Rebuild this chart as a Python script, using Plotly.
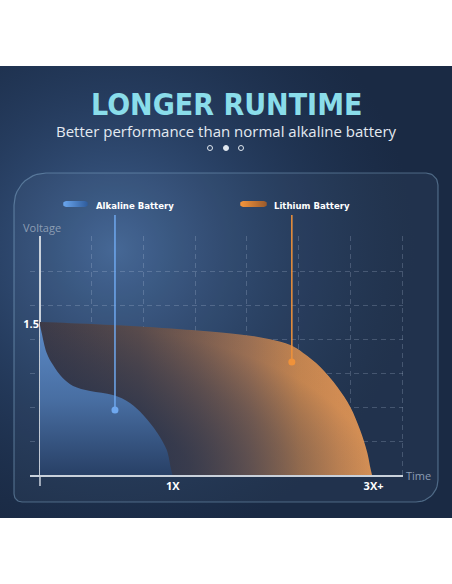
import numpy as np
import plotly.graph_objects as go

W, H = 452, 584

# ---------------- data ----------------
alk_x = [0, 0.03, 0.13, 0.25, 0.44, 0.64, 0.97, 1.41, 1.74, 2.0, 2.26, 2.45, 2.53, 2.56]
alk_y = [4.41, 4.2, 3.59, 3.24, 2.85, 2.62, 2.47, 2.35, 2.12, 1.76, 1.26, 0.74, 0.2, 0]
lith_x = [0, 1.0, 2.0, 2.71, 3.6, 4.1, 4.45, 4.84, 5.09, 5.42, 5.75, 6.0, 6.19, 6.33, 6.39, 6.42]
lith_y = [4.5, 4.44, 4.36, 4.29, 4.18, 4.09, 3.99, 3.82, 3.59, 3.18, 2.59, 2.0, 1.32, 0.65, 0.2, 0]
x_tickvals = [2.57, 6.45]
x_ticktext = ["1X", "3X+"]
y_tickvals = [4.44]
y_ticktext = ["1.5"]
series_names = ["Alkaline Battery", "Lithium Battery"]
leader_x = [1.45, 4.87]
leader_y_bottom = [1.91, 3.32]
leader_y_top = 7.65
X_RANGE = [-0.193, 7.02]
Y_RANGE = [0, 7.02]

BLUE = "#6fa8ef"
ORANGE = "#f0923a"
NAVY = "34,48,76"


def pxx(x):
    return x / W


def pxy(y):
    return 1 - y / H


def rounded_rect(x0, y0, x1, y1, rtl, rtr, rbr, rbl, n=12):
    pts = []
    def arc(cx, cy, r, a0, a1):
        for t in np.linspace(a0, a1, n):
            pts.append((cx + r * np.cos(t), cy + r * np.sin(t)))
    arc(x0 + rtl, y0 + rtl, rtl, np.pi, 1.5 * np.pi)
    arc(x1 - rtr, y0 + rtr, rtr, 1.5 * np.pi, 2 * np.pi)
    arc(x1 - rbr, y1 - rbr, rbr, 0, 0.5 * np.pi)
    arc(x0 + rbl, y1 - rbl, rbl, 0.5 * np.pi, np.pi)
    pts.append(pts[0])
    xs, ys = zip(*pts)
    return list(xs), list(ys)


def circle(cx, cy, r, n=90):
    t = np.linspace(0, 2 * np.pi, n)
    return list(cx + r * np.cos(t)), list(cy + r * np.sin(t))


fig = go.Figure()

# ---------- background subplot (pixel coordinates) ----------
bx, by = rounded_rect(0, 66, W, 518, 0.01, 0.01, 0.01, 0.01, 2)
fig.add_trace(go.Scatter(x=bx, y=by, fill="toself", fillcolor="#1a2a44",
                         line=dict(width=0), mode="lines", hoverinfo="skip",
                         showlegend=False, xaxis="x", yaxis="y"))
gx, gy = circle(115, 250, 300)
fig.add_trace(go.Scatter(x=gx, y=gy, fill="toself", mode="lines", line=dict(width=0),
                         fillgradient=dict(type="radial",
                                           colorscale=[[0, "rgba(78,118,172,0.75)"],
                                                       [0.5, "rgba(60,95,145,0.35)"],
                                                       [1, "rgba(40,70,110,0)"]]),
                         hoverinfo="skip", showlegend=False, xaxis="x", yaxis="y"))
for (ya, yb) in [(0, 66), (518, H)]:
    wx, wy = rounded_rect(0, ya, W, yb, 0.01, 0.01, 0.01, 0.01, 2)
    fig.add_trace(go.Scatter(x=wx, y=wy, fill="toself", fillcolor="white", mode="lines",
                             line=dict(width=0), hoverinfo="skip", showlegend=False,
                             xaxis="x", yaxis="y"))
# inner panel
ppx, ppy = rounded_rect(14, 173, 438, 502, 32, 12, 22, 8)
fig.add_trace(go.Scatter(x=ppx, y=ppy, fill="toself", fillcolor="rgba(150,185,225,0.06)",
                         mode="lines", line=dict(width=1.2, color="rgba(140,180,210,0.45)"),
                         hoverinfo="skip", showlegend=False, xaxis="x", yaxis="y"))
# legend pills
for (x0, x1, cs) in [(63, 88, [[0, "#6aa6ee"], [1, "#2f5c9c"]]),
                     (240, 267, [[0, "#f5963c"], [1, "#9a5a2c"]])]:
    r = 3
    t1 = np.linspace(0.5 * np.pi, 1.5 * np.pi, 12)
    t2 = np.linspace(-0.5 * np.pi, 0.5 * np.pi, 12)
    xs = list(x0 + r + r * np.cos(t1)) + list(x1 - r + r * np.cos(t2))
    ys = list(204 + r * np.sin(t1)) + list(204 + r * np.sin(t2))
    xs.append(xs[0]); ys.append(ys[0])
    fig.add_trace(go.Scatter(x=xs, y=ys, fill="toself", mode="lines", line=dict(width=0),
                             fillgradient=dict(type="horizontal", colorscale=cs),
                             hoverinfo="skip", showlegend=False, xaxis="x", yaxis="y"))
# pagination dots
fig.add_trace(go.Scatter(x=[210, 226, 241], y=[148, 148, 148], mode="markers",
                         marker=dict(symbol=["circle-open", "circle", "circle-open"], size=5,
                                     color="#dfe6ee", line=dict(width=1, color="#dfe6ee")),
                         hoverinfo="skip", showlegend=False, xaxis="x", yaxis="y"))

# ---------- main chart ----------
fig.add_trace(go.Scatter(x=lith_x, y=lith_y, fill="tozeroy", mode="lines",
                         line=dict(width=0, shape="spline", smoothing=1),
                         name=series_names[1],
                         fillgradient=dict(type="horizontal",
                                           colorscale=[[0, "rgb(64,60,72)"], [0.3, "rgb(95,78,76)"],
                                                       [0.47, "rgb(130,97,80)"], [0.63, "rgb(168,118,84)"],
                                                       [0.78, "rgb(212,141,80)"], [0.9, "rgb(228,150,84)"],
                                                       [1, "rgb(232,154,86)"]]),
                         showlegend=False, xaxis="x2", yaxis="y2"))
# shading of the lithium area, darker towards the origin (radial gradient centred at the
# origin: the outline is mirrored below/left of the axes, where it is clipped away)
xm, ym = max(lith_x), max(lith_y)
sh_x = list(lith_x) + [0, -xm, 0]
sh_y = list(lith_y) + [0, -ym, -0.001]
fig.add_trace(go.Scatter(x=sh_x, y=sh_y, fill="toself", mode="lines", line=dict(width=0),
                         fillgradient=dict(type="radial",
                                           colorscale=[[0, f"rgba({NAVY},0.92)"], [0.45, f"rgba({NAVY},0.75)"],
                                                       [0.75, f"rgba({NAVY},0.42)"], [1, f"rgba({NAVY},0.1)"]]),
                         hoverinfo="skip", showlegend=False, xaxis="x2", yaxis="y2"))
fig.add_trace(go.Scatter(x=alk_x, y=alk_y, fill="tozeroy", mode="lines",
                         line=dict(width=0, shape="spline", smoothing=1),
                         name=series_names[0],
                         fillgradient=dict(type="vertical",
                                           colorscale=[[0, "rgb(40,64,102)"], [0.5, "rgb(72,110,162)"],
                                                       [1, "rgb(92,138,198)"]]),
                         showlegend=False, xaxis="x2", yaxis="y2"))
for lx, lyb, col in zip(leader_x, leader_y_bottom, [BLUE, ORANGE]):
    fig.add_trace(go.Scatter(x=[lx, lx], y=[lyb, leader_y_top], mode="markers",
                             marker=dict(size=7, color=col), cliponaxis=False,
                             hoverinfo="skip", showlegend=False, xaxis="x2", yaxis="y2"))

ymin, ymax = Y_RANGE
shapes = []
for lx, lyb, col in zip(leader_x, leader_y_bottom, [BLUE, ORANGE]):
    shapes.append(dict(type="line", xref="x2", yref="y2 domain", x0=lx, x1=lx,
                       y0=(lyb - ymin) / (ymax - ymin), y1=(leader_y_top - ymin) / (ymax - ymin),
                       line=dict(color=col, width=1.5), layer="above"))
shapes.append(dict(type="line", xref="x2", yref="y2 domain", x0=0, x1=0, y0=0, y1=-11 / 238,
                   line=dict(color="#c9d1db", width=1.5), layer="above"))

GRID = "rgba(200,215,235,0.22)"
COND = "DejaVu Sans Condensed, sans-serif"
annotations = [
    dict(text="LONGER RUNTIME", x=0.5, y=pxy(104), xref="paper", yref="paper", showarrow=False,
         xanchor="center", yanchor="middle",
         font=dict(family=COND, size=30, color="#8addea", weight="bold")),
    dict(text="Better performance than normal alkaline battery", x=0.5, y=pxy(131),
         xref="paper", yref="paper", showarrow=False, xanchor="center", yanchor="middle",
         font=dict(family="Open Sans", size=15, color="#e4eaf1")),
    dict(text=series_names[0], x=pxx(94), y=pxy(205), xref="paper", yref="paper", xanchor="left",
         yanchor="middle", showarrow=False,
         font=dict(family=COND, size=9.5, color="white", weight="bold")),
    dict(text=series_names[1], x=pxx(272), y=pxy(205), xref="paper", yref="paper", xanchor="left",
         yanchor="middle", showarrow=False,
         font=dict(family=COND, size=9.5, color="white", weight="bold")),
    dict(text="Voltage", x=pxx(42), y=pxy(227), xref="paper", yref="paper", showarrow=False,
         xanchor="center", yanchor="middle",
         font=dict(family="Open Sans", size=11, color="#8c9db3")),
    dict(text="Time", x=pxx(404), y=pxy(475), xref="paper", yref="paper", xanchor="left",
         yanchor="middle", showarrow=False, font=dict(family="Open Sans", size=11, color="#8c9db3")),
]

PXU_X = 372 / 7.193
PXU_Y = 238 / 7
fig.update_layout(
    width=W, height=H, margin=dict(l=0, r=0, t=0, b=0),
    paper_bgcolor="white", plot_bgcolor="rgba(0,0,0,0)",
    xaxis=dict(domain=[0, 1], range=[0, W], visible=False, fixedrange=True),
    yaxis=dict(domain=[0, 1], range=[H, 0], visible=False, fixedrange=True),
    xaxis2=dict(domain=[pxx(30), pxx(30 + (X_RANGE[1] - X_RANGE[0]) * PXU_X)], range=X_RANGE,
                anchor="y2", tickmode="array", tickvals=x_tickvals, ticktext=x_ticktext, ticks="",
                tickfont=dict(family="Open Sans", size=11, color="white", weight="bold"),
                showgrid=False, zeroline=True, zerolinecolor="#c9d1db", zerolinewidth=1.5,
                showline=True, linecolor="#c9d1db", linewidth=1.5,
                minor=dict(tickmode="linear", tick0=0, dtick=1, showgrid=True, gridcolor=GRID,
                           gridwidth=1, griddash="5px,4px")),
    yaxis2=dict(domain=[pxy(475), pxy(475 - (Y_RANGE[1] - Y_RANGE[0]) * PXU_Y)], range=Y_RANGE,
                anchor="x2", tickmode="array", tickvals=y_tickvals, ticktext=y_ticktext, ticks="",
                ticklabelstandoff=-10,
                tickfont=dict(family="Open Sans", size=11, color="white", weight="bold"),
                showgrid=False, zeroline=False, showline=False,
                minor=dict(tickmode="linear", tick0=0, dtick=1, showgrid=True, gridcolor=GRID,
                           gridwidth=1, griddash="5px,4px")),
    shapes=shapes, annotations=annotations, showlegend=False,
)

fig.write_html("out.html", config={"displayModeBar": False},
               post_script="document.body.style.margin='0';")
